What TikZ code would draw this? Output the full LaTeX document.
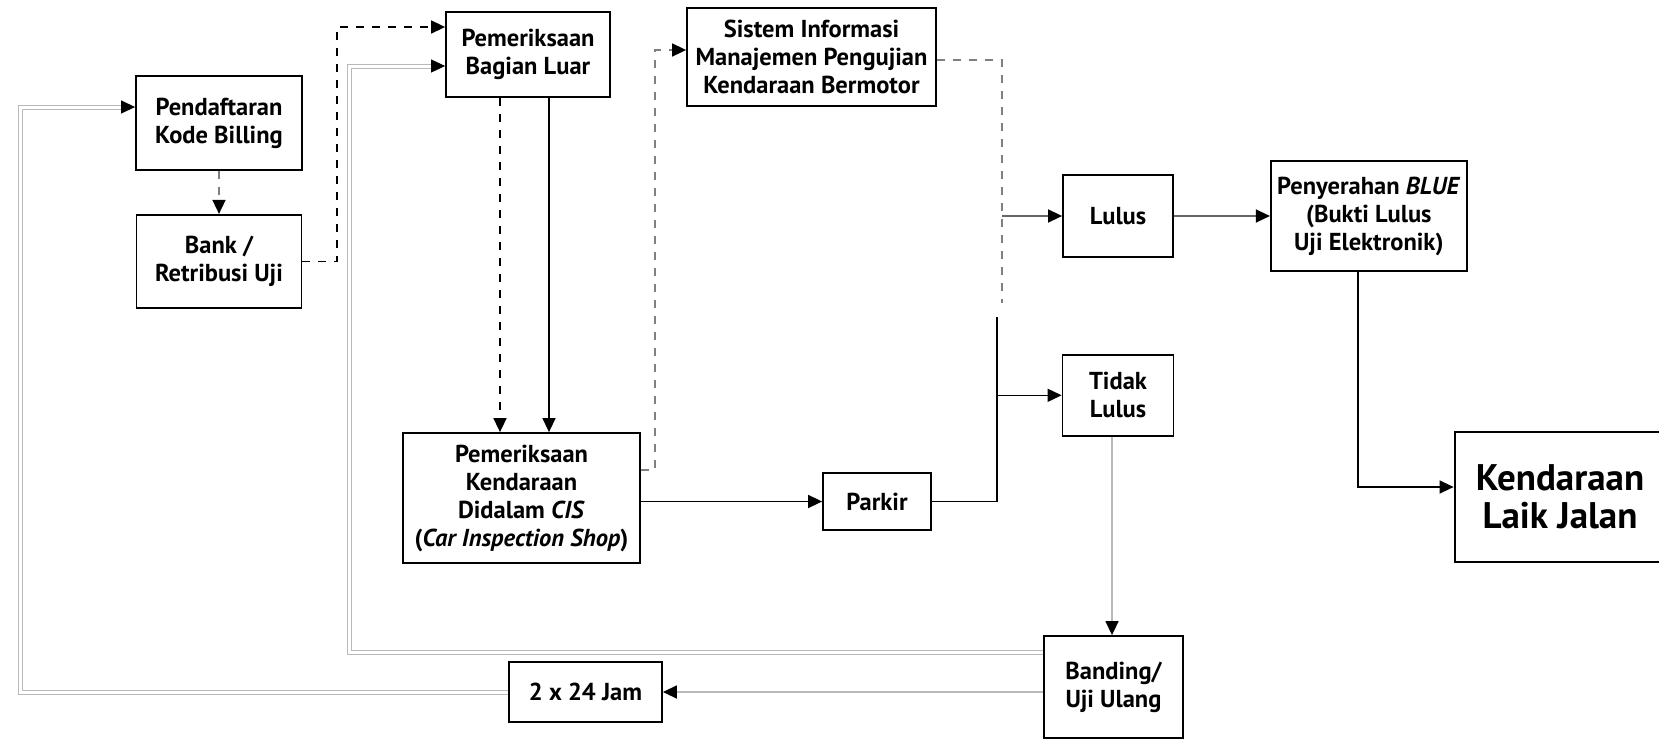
\documentclass[tikz,border=0pt]{standalone}
\usepackage{fontspec}
\setmainfont{PT Sans}
\usepackage{tikz}
\usetikzlibrary{positioning, arrows.meta}
\tikzset{
    x=1pt, y=-1pt, % one unit is one pixel of the scan, y grows downwards
    blackhead/.style={-{Triangle[length=14pt, width=13pt, black]}}, % filled black arrow heads
    box/.style={draw, line width=1.8pt, align=center, inner sep=0pt, font=\fontsize{24.5}{28}\selectfont\bfseries}, % every box
    flow/.style={blackhead, line width=1.5pt}, % solid arrows
    plain/.style={line width=1.5pt}, % solid line, no head
    dashline/.style={line width=1.6pt, dash pattern=on 8pt off 8pt}, % dashed links
    greyflow/.style={blackhead, line width=1.5pt, gray!55}, % light grey arrows
    backline/.style={blackhead, line width=1pt, gray!55, double=white, double distance=3pt}, % grey return loops
}

\begin{document}
\begin{tikzpicture}
    \useasboundingbox (0,0) rectangle (1659,739);
    \clip (0,0) rectangle (1659,739);

    \node[box, minimum width=166pt, minimum height=94pt] (pend) at (219,123) {Pendaftaran\\Kode Billing};
    \node[box, minimum width=165pt, minimum height=93pt, below=43pt of pend] (bank) {Bank /\\Retribusi Uji};
    \node[box, minimum width=164pt, minimum height=85pt] (luar) at (528,54.5) {Pemeriksaan\\Bagian Luar};
    \node[box, minimum width=249pt, minimum height=98pt] (sim) at (811.5,57) {Sistem Informasi\\Manajemen Pengujian\\Kendaraan Bermotor};
    \node[box, minimum width=237pt, minimum height=130pt] (cis) at (521.5,498) {Pemeriksaan\\Kendaraan\\Didalam \textit{CIS}\\(\textit{Car Inspection Shop})};
    \node[box, minimum width=108pt, minimum height=57pt] (parkir) at (877,501.5) {Parkir};
    \node[box, minimum width=110pt, minimum height=82pt] (lulus) at (1118,216) {Lulus};
    \node[box, minimum width=111pt, minimum height=81pt, below=96pt of lulus] (tidak) {Tidak\\Lulus};
    \node[box, minimum width=196pt, minimum height=110pt, right=96pt of lulus] (blue) {Penyerahan \textit{BLUE}\\(Bukti Lulus\\Uji Elektronik)};
    \node[box, minimum width=139pt, minimum height=102pt] (banding) at (1113.5,687) {Banding/\\Uji Ulang};
    \node[box, minimum width=153pt, minimum height=60pt] (jam) at (585.5,692) {2 x 24 Jam};
    \node[box, line width=2.8pt, minimum width=210pt, minimum height=130pt, font=\fontsize{37}{38}\selectfont\bfseries] (laik) at (1560,497) {Kendaraan\\Laik Jalan};

    % corners of the bent links
    \coordinate (k1) at (337,27);
    \coordinate (k2) at (349,66);
    \coordinate (k3) at (349,652);
    \coordinate (k4) at (20,107);
    \coordinate (k5) at (655,50);
    \coordinate (k6) at (1002,303);
    \coordinate (k7) at (997,317);

    \draw[blackhead, dashline, gray] (pend) -- (bank);
    \draw[blackhead, dashline] (bank.east) -| (k1) -- (k1 -| luar.west);
    \draw[blackhead, dashline] ([xshift=-28pt]luar.south) -- ([xshift=-28pt]luar.south |- cis.north);
    \draw[flow] ([xshift=21pt]luar.south) -- ([xshift=21pt]luar.south |- cis.north);
    \draw[blackhead, dashline, gray] ([yshift=28pt]cis.east) -| (k5) -- (k5 -| sim.west);
    \draw[dashline, gray] ([yshift=-3pt]sim.east) -| (k6);
    \draw[flow, gray!80!black] (k6 |- lulus) -- (lulus.west);
    \draw[flow] (cis.east |- parkir) -- (parkir.west);
    \draw[plain] (parkir.east) -| (k7);
    \draw[flow] (k7 |- tidak) -- (tidak.west);
    \draw[flow, gray!80!black] (lulus) -- (blue);
    \draw[flow] ([xshift=-11pt]blue.south) |- ([yshift=10pt]laik.west);
    \draw[greyflow] ([xshift=-6pt]tidak.south) -- ([xshift=-6pt]tidak.south |- banding.north);
    \draw[backline] (banding.west |- k3) -- (k3) -- (k2) -- (k2 -| luar.west);
    \draw[greyflow] (banding.west |- jam) -- (jam.east);
    \draw[backline] (jam.west) -| (k4) -- (k4 -| pend.west);
\end{tikzpicture}
\end{document}
